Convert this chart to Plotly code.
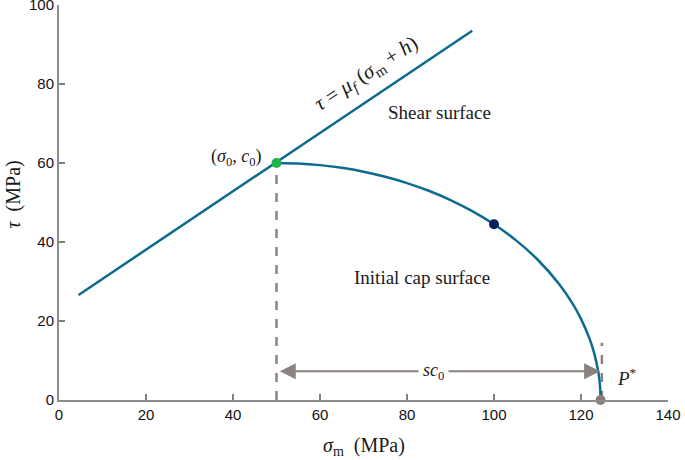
import plotly.graph_objects as go

# Shear surface (straight line) end points
shear_sigma = [4.5, 95.0]
shear_tau = [26.6, 93.5]

# Initial cap surface
cap_sigma = [50, 55, 60, 65, 70, 75, 80, 85, 90, 95, 100, 105, 110, 115, 118, 120,
             122, 123, 124, 124.3, 124.45, 124.5]
cap_tau = [60.0, 59.87, 59.46, 58.77, 57.80, 56.52, 54.92, 52.97, 50.62, 47.82, 44.48,
           40.47, 35.57, 29.32, 24.51, 20.54, 15.41, 11.98, 6.94, 4.40, 2.2, 0.0]

# Special points
sigma0, c0 = 50.0, 60.0
mid_sigma, mid_tau = 100.0, 44.5
p_star = 124.5

# Guide lines
dash1_sigma = [50.0, 50.0]
dash1_tau = [0.0, 60.0]
dash2_sigma = [124.8, 124.8]
dash2_tau = [0.0, 14.5]
arrow_tau = 7.3
arrow_left, arrow_right = 50.4, 124.4

x_ticks = [0, 20, 40, 60, 80, 100, 120, 140]
y_ticks = [0, 20, 40, 60, 80, 100]

LINE = '#0c6b8e'
GUIDE = '#8c8282'
SERIF = 'Liberation Serif'
TXT = '#1a1a1a'

fig = go.Figure()
fig.add_trace(go.Scatter(x=dash1_sigma, y=dash1_tau, mode='lines',
                         line=dict(color=GUIDE, width=2.5, dash='dash'), hoverinfo='skip'))
fig.add_trace(go.Scatter(x=dash2_sigma, y=dash2_tau, mode='lines',
                         line=dict(color=GUIDE, width=2.5, dash='dash'), hoverinfo='skip'))
fig.add_trace(go.Scatter(x=shear_sigma, y=shear_tau, mode='lines',
                         line=dict(color=LINE, width=2.5)))
fig.add_trace(go.Scatter(x=cap_sigma, y=cap_tau, mode='lines',
                         line=dict(color=LINE, width=2.5, shape='spline', smoothing=0.6)))
fig.add_trace(go.Scatter(x=[sigma0], y=[c0], mode='markers',
                         marker=dict(color='#1db34f', size=10)))
fig.add_trace(go.Scatter(x=[mid_sigma], y=[mid_tau], mode='markers',
                         marker=dict(color='#0b1f5e', size=10)))
fig.add_trace(go.Scatter(x=[p_star], y=[0], mode='markers',
                         marker=dict(color='#8c7878', size=10), cliponaxis=False))

annotations = [
    dict(x=arrow_right, y=arrow_tau, ax=arrow_left, ay=arrow_tau, axref='x', ayref='y',
         xref='x', yref='y', text='', showarrow=True, arrowside='end+start',
         arrowhead=2, arrowsize=1.6, arrowwidth=2, arrowcolor=GUIDE),
    dict(x=86, y=arrow_tau, xref='x', yref='y', showarrow=False,
         text='<i>sc</i><sub>0</sub>', bgcolor='white', borderpad=4,
         font=dict(family=SERIF, size=18, color=TXT)),
    dict(x=130.5, y=5.8, xref='x', yref='y', showarrow=False,
         text='<i>P</i><sup>*</sup>', font=dict(family=SERIF, size=19, color=TXT)),
    dict(x=40.8, y=61.5, xref='x', yref='y', showarrow=False,
         text='(<i>σ</i><sub>0</sub>, <i>c</i><sub>0</sub>)',
         font=dict(family=SERIF, size=18, color=TXT)),
    dict(x=87.5, y=72.8, xref='x', yref='y', showarrow=False,
         text='Shear surface', font=dict(family=SERIF, size=19, color=TXT)),
    dict(x=83.5, y=31, xref='x', yref='y', showarrow=False,
         text='Initial cap surface', font=dict(family=SERIF, size=19, color=TXT)),
    dict(x=70.6, y=82.6, xref='x', yref='y', showarrow=False, textangle=-33,
         text='<i>τ</i> = <i>μ</i><sub><i>f</i></sub> (<i>σ</i><sub>m</sub> + <i>h</i>)',
         font=dict(family=SERIF, size=21, color=TXT)),
    dict(x=0.5, y=0, xref='paper', yref='paper', yshift=-46, showarrow=False,
         yanchor='middle', xanchor='center',
         text='<i>σ</i><sub>m</sub>&nbsp;&nbsp;(MPa)', font=dict(family=SERIF, size=20, color=TXT)),
    dict(x=0, y=0.52, xref='paper', yref='paper', xshift=-45, showarrow=False,
         yanchor='middle', xanchor='center', textangle=-90,
         text='<i>τ</i>&nbsp;&nbsp;(MPa)', font=dict(family=SERIF, size=20, color=TXT)),
]

axis_common = dict(ticks='inside', ticklen=6, tickwidth=1.5, tickcolor='#808080',
                   showline=True, linecolor='#8c8c8c', linewidth=2,
                   showgrid=False, zeroline=False, automargin=False,
                   ticklabeloverflow='allow',
                   tickfont=dict(family='Liberation Sans', size=15, color='#111'))

fig.update_layout(
    width=685, height=460,
    margin=dict(l=59, r=17, t=5, b=60, autoexpand=False),
    plot_bgcolor='white', paper_bgcolor='white',
    showlegend=False,
    annotations=annotations,
    xaxis=dict(range=[0, 140], tickvals=x_ticks, **axis_common),
    yaxis=dict(range=[0, 100], tickvals=y_ticks, **axis_common),
)

fig.write_html('out.html', config={'displayModeBar': False},
               post_script="document.body.style.margin='0';")
